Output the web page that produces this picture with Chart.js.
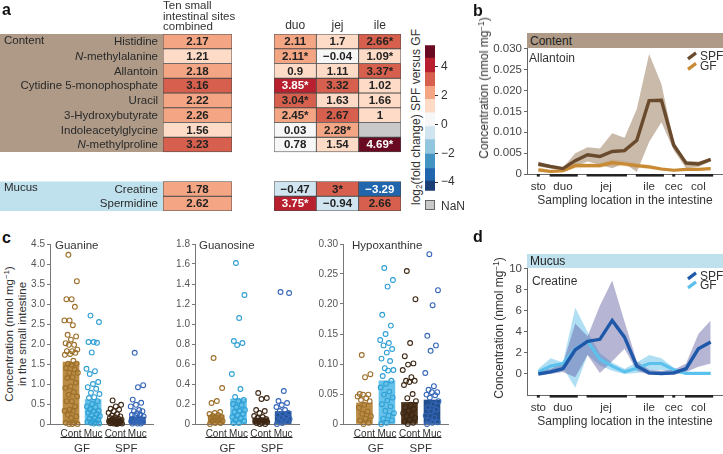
<!DOCTYPE html>
<html><head><meta charset="utf-8">
<script src="https://cdn.jsdelivr.net/npm/chart.js@4.4.1/dist/chart.umd.min.js"></script>
<style>
body{margin:0;width:723px;height:454px;position:relative;background:#fff;font-family:"Liberation Sans",Arial,sans-serif;color:#333;overflow:hidden}
canvas{position:absolute}
.t{position:absolute;white-space:nowrap;line-height:1}
sup{font-size:0.68em;vertical-align:0.45em;line-height:0}
sub{font-size:0.68em;vertical-align:-0.2em;line-height:0}
.box{position:absolute}
</style></head><body>
<script>
// ================= DATA =================
const contentRows = ['Histidine','N-methylalanine','Allantoin','Cytidine 5-monophosphate','Uracil','3-Hydroxybutyrate','Indoleacetylglycine','N-methylproline'];
const mucusRows = ['Creatine','Spermidine'];
const combinedContent = [2.17,1.21,2.18,3.16,2.22,2.26,1.56,3.23];
const combinedMucus = [1.78,2.62];
const siteCols = ['duo','jej','ile'];
const duoContent = [2.11,2.11,0.9,3.85,3.04,2.45,0.03,0.78];
const jejContent = [1.7,-0.04,1.11,3.32,1.63,2.67,2.28,1.54];
const ileContent = [2.66,1.09,3.37,1.02,1.66,1,null,4.69];
const duoContentSig = [0,1,0,1,1,1,0,0];
const jejContentSig = [0,0,0,0,0,0,1,0];
const ileContentSig = [1,1,1,0,0,0,0,1];
const duoMucus = [-0.47,3.75];
const jejMucus = [3,-0.94];
const ileMucus = [-3.29,2.66];
const duoMucusSig = [0,1];
const jejMucusSig = [1,0];
const ileMucusSig = [0,0];
const colorEdges = [-4.6,-3.93,-3.06,-2.05,-1.04,-0.15,0.8,1.75,2.64,3.6,4.6,5.5];
const colorPalette = ['#1b3d75','#2166ac','#4393c3','#92c5de','#d1e5f0','#f7f7f7','#fddbc7','#f3a584','#d6604d','#b8202f','#6a0a22'];
const colorTicks = [-4,-2,0,2,4];

const siteGroups = ['sto','duo','jej','ile','cec','col'];
const siteGroupSizes = [1,3,4,3,1,3];

const allantoinSPF     = [0.0024,0.0018,0.0013,0.0032,0.0046,0.0042,0.0054,0.0056,0.0081,0.0176,0.0177,0.0069,0.0026,0.0024,0.0035];
const allantoinSPFHigh = [0.0030,0.0020,0.0015,0.0050,0.0064,0.0061,0.0098,0.0087,0.0156,0.0288,0.0215,0.0078,0.0032,0.0030,0.0038];
const allantoinSPFLow  = [0.0018,0.0013,0.0010,0.0018,0.0030,0.0022,0.0014,0.0026,0.0005,0.0077,0.0124,0.0057,0.0014,0.0017,0.0030];
const allantoinGF      = [0.0010,0.0006,0.0008,0.0020,0.0020,0.0020,0.0027,0.0024,0.0020,0.0017,0.0012,0.0009,0.0011,0.0011,0.0013];
const allantoinGFHigh  = [0.0016,0.0010,0.0012,0.0027,0.0026,0.0026,0.0035,0.0031,0.0026,0.0022,0.0016,0.0012,0.0014,0.0014,0.0016];
const allantoinGFLow   = [0.0005,0.0002,0.0004,0.0014,0.0015,0.0015,0.0020,0.0018,0.0015,0.0012,0.0008,0.0006,0.0008,0.0008,0.0010];
const allantoinTicks = [0,0.005,0.010,0.015,0.020,0.025,0.030];

const creatineSPF     = [0,0.2,0.5,2.3,3.1,3.3,5.1,3.5,0.75,0.1,0.05,0.1,0.5,2.4,3.05];
const creatineSPFHigh = [0.3,0.5,1.0,4.8,3.6,6.5,8.9,5.0,1.2,0.4,0.3,0.4,1.0,3.8,5.1];
const creatineSPFLow  = [-0.1,0.0,0.2,-0.3,1.8,0.1,1.2,2.4,0.3,-0.1,-0.1,-0.1,0.2,0.7,1.0];
const creatineGF      = [0.2,0.75,1.0,2.4,3.1,1.4,0.75,0.2,0.55,1.0,1.0,0.4,0.05,0.05,0.05];
const creatineGFHigh  = [0.5,1.5,1.1,6.3,4.0,2.0,1.1,0.5,1.1,1.8,1.5,0.6,0.2,0.2,0.2];
const creatineGFLow   = [-0.1,0.2,0.6,-1.3,1.8,0.8,0.3,0.0,0.1,0.3,0.4,0.1,-0.05,-0.05,-0.05];
const creatineTicks = [0,2,4,6,8,10];

const stripGroups = ['Cont','Muc','Cont','Muc'];
const hostGroups = ['GF','SPF'];

const guanineMean = [1.55,0.61,0.13,0.175];
const guanineGFCont = [4.23,3.57,3.12,3.12,2.93,2.59,2.59,2.47,2.23,2.19,2.11,2.02,1.98,1.98,1.86,1.82,1.82,1.78,1.75,1.73,1.58,1.51,1.51,1.48,1.4,1.36,1.28,1.28,1.17,1.15,1.03,0.94,0.9,0.8,0.73,0.69,0.57,0.57,0.44,0.36,0.33,0.33,0.23,0.19,0.15,0.03,0.03,0,0,0];
const guanineGFMuc = [2.71,2.55,2.05,2.05,2.03,1.79,1.38,1.32,1.25,1.05,1.0,0.92,0.88,0.78,0.75,0.67,0.65,0.57,0.5,0.44,0.42,0.37,0.33,0.32,0.28,0.25,0.22,0.2,0.15,0.13,0.1,0.07,0.05,0.03,0.03,0.01,0.01];
const guanineSPFCont = [0.59,0.48,0.44,0.38,0.36,0.32,0.28,0.25,0.21,0.19,0.17,0.15,0.13,0.13,0.11,0.11,0.09,0.07,0.07,0.07,0.05,0.04,0.03,0.02,0.02,0.02,0.01,0.01,0];
const guanineSPFMuc = [1.78,0.97,0.92,0.61,0.53,0.48,0.44,0.35,0.32,0.32,0.27,0.23,0.23,0.22,0.19,0.15,0.13,0.11,0.09,0.07,0.07,0.05,0.05,0.01,0.01,0.01];
const guanineTicks = [0,0.5,1.0,1.5,2.0,2.5,3.0,3.5,4.0,4.5];

const guanosineMean = [0.09,0.25,0.06,0.125];
const guanosineGFCont = [0.66,0.36,0.23,0.21,0.12,0.11,0.1,0.09,0.08,0.07,0.07,0.06,0.05,0.04,0.03,0.03,0.03,0.01,0.01,0];
const guanosineGFMuc = [1.61,1.29,1.06,0.83,0.81,0.79,0.5,0.35,0.27,0.24,0.23,0.2,0.19,0.17,0.14,0.13,0.12,0.1,0.09,0.07,0.06,0.04,0.03,0.01,0.01];
const guanosineSPFCont = [0.31,0.26,0.25,0.14,0.13,0.11,0.08,0.07,0.06,0.05,0.04,0.03,0.03,0.03,0.02,0.01,0.01,0,0];
const guanosineSPFMuc = [1.32,1.31,0.33,0.23,0.21,0.19,0.17,0.14,0.13,0.11,0.1,0.09,0.08,0.06,0.05,0.04,0.03,0.03,0.01,0];
const guanosineTicks = [0,0.2,0.4,0.6,0.8,1.0,1.2,1.4,1.6,1.8];

const hypoxanthineMean = [0.035,0.072,0.036,0.04];
const hypoxanthineGFCont = [0.115,0.083,0.078,0.05,0.049,0.049,0.046,0.043,0.04,0.038,0.032,0.027,0.021,0.017,0.013,0.009,0.006,0.002,0];
const hypoxanthineGFMuc = [0.26,0.24,0.229,0.182,0.164,0.15,0.14,0.135,0.131,0.125,0.119,0.109,0.105,0.093,0.09,0.089,0.08,0.072,0.067,0.061,0.054,0.049,0.044,0.039,0.033,0.029,0.022,0.018,0.014,0.009,0.006,0.002,0];
const hypoxanthineSPFCont = [0.255,0.208,0.135,0.113,0.101,0.099,0.09,0.078,0.072,0.072,0.07,0.065,0.05,0.043,0.038,0.032,0.028,0.025,0.022,0.018,0.015,0.013,0.01,0.007,0.004,0.002,0];
const hypoxanthineSPFMuc = [0.283,0.223,0.198,0.147,0.131,0.122,0.085,0.063,0.057,0.053,0.053,0.049,0.048,0.044,0.038,0.033,0.028,0.024,0.021,0.014,0.011,0.006,0.003,0.002,0];
const hypoxanthineTicks = [0,0.05,0.10,0.15,0.20,0.25,0.30];

// ================= HELPERS =================
const FONT = '"Liberation Sans", Arial, sans-serif';
Chart.defaults.font.family = FONT;
Chart.defaults.color = '#333';
Chart.defaults.animation = false;

function label(html, x, cy, size, o) {
  o = o || {};
  const d = document.createElement('div');
  d.className = 't'; d.innerHTML = html;
  d.style.left = x + 'px'; d.style.top = cy + 'px'; d.style.fontSize = size + 'px';
  if (o.bold) d.style.fontWeight = 'bold';
  if (o.color) d.style.color = o.color;
  if (o.lh) { d.style.lineHeight = o.lh + 'px'; d.style.textAlign = 'center'; }
  const tx = o.align === 'center' || o.rot ? '-50%' : (o.align === 'right' ? '-100%' : '0');
  d.style.transform = 'translate(' + tx + ',-50%)' + (o.rot ? ' rotate(-90deg)' : '');
  document.body.appendChild(d);
}
function box(x, y, w, h, bg, border) {
  const d = document.createElement('div');
  d.className = 'box';
  d.style.cssText += `left:${x}px;top:${y}px;width:${w}px;height:${h}px;background:${bg};` + (border ? `border:${border};box-sizing:border-box;` : '');
  document.body.appendChild(d);
}
function canvasAt(x, y, w, h) {
  const c = document.createElement('canvas');
  c.width = w; c.height = h;
  c.style.left = x + 'px'; c.style.top = y + 'px'; c.style.width = w + 'px'; c.style.height = h + 'px';
  document.body.appendChild(c);
  return c;
}
function colorFor(v) {
  if (v === null || v === undefined) return '#c9c9c9';
  for (let i = 0; i < colorPalette.length; i++) if (v < colorEdges[i + 1]) return colorPalette[i];
  return colorPalette[colorPalette.length - 1];
}
function binOf(v) {
  for (let i = 0; i < colorPalette.length; i++) if (v < colorEdges[i + 1]) return i;
  return colorPalette.length - 1;
}
function fmtVal(v) { return v < 0 ? '\u2212' + String(Math.abs(v)) : String(v); }
function jit(i) { return (((i * 0.618034 + 0.31) % 1) - 0.5) * 0.62; }

// ================= PANEL a: HEATMAPS =================
const contentPos = contentRows.map((_, i) => i);
const mucusPos = mucusRows.map((_, i) => contentRows.length + 2 + i);
const nRowsTotal = contentRows.length + 2 + mucusRows.length;

const cellText = {
  id: 'cellText',
  afterDatasetsDraw(chart) {
    const ctx = chart.ctx;
    ctx.save();
    ctx.font = 'bold 11.5px ' + FONT;
    ctx.textAlign = 'center'; ctx.textBaseline = 'middle';
    chart.data.datasets.forEach((ds, d) => {
      chart.getDatasetMeta(d).data.forEach((el, k) => {
        const v = ds.vals[k];
        if (v === null || v === undefined) return;
        const b = binOf(v);
        ctx.fillStyle = (b >= 9 || b <= 2) ? '#ffffff' : '#222';
        ctx.fillText(fmtVal(v) + (ds.sigs[k] ? '*' : ''), el.x, (el.y + el.base) / 2 + 0.5);
      });
    });
    ctx.restore();
  }
};

function heatDatasets(posArr, valCols, sigCols) {
  return posArr.map((p, r) => ({
    data: valCols.map(() => [p, p + 1]),
    vals: valCols.map(col => col[r]),
    sigs: sigCols.map(col => col[r]),
    backgroundColor: valCols.map(col => colorFor(col[r])),
    borderColor: '#4a4a4a', borderWidth: 0.8, borderSkipped: false,
    barPercentage: 1, categoryPercentage: 1, grouped: false
  }));
}
function heatOptions() {
  return {
    responsive: false, maintainAspectRatio: false, animation: false,
    events: [],
    plugins: { legend: { display: false }, tooltip: { enabled: false } },
    scales: {
      x: { display: false, offset: true },
      y: { display: false, type: 'linear', min: 0, max: nRowsTotal, reverse: true }
    }
  };
}

const rowLabels = {
  id: 'rowLabels',
  beforeDatasetsDraw(chart) {
    const { ctx, chartArea: a, scales: { y } } = chart;
    ctx.save();
    ctx.fillStyle = '#ae9a86';
    const c0 = y.getPixelForValue(contentPos[0]), c1 = y.getPixelForValue(contentPos[contentPos.length - 1] + 1);
    ctx.fillRect(0, c0, a.left, c1 - c0);
    ctx.fillStyle = '#bfe1ed';
    const m0 = y.getPixelForValue(mucusPos[0]), m1 = y.getPixelForValue(mucusPos[mucusPos.length - 1] + 1);
    ctx.fillRect(0, m0, a.left, m1 - m0);
    ctx.restore();
  },
  afterDatasetsDraw(chart) {
    const { ctx, chartArea: a, scales: { y } } = chart;
    ctx.save();
    ctx.fillStyle = '#2a2a2a'; ctx.textBaseline = 'middle';
    const draw = (name, p) => {
      const cy = y.getPixelForValue(p + 0.5) + 0.5;
      const xr = a.left - 5;
      if (name.startsWith('N-')) {
        ctx.font = '11.5px ' + FONT;
        const rest = name.slice(1);
        const w2 = ctx.measureText(rest).width;
        ctx.textAlign = 'left';
        ctx.fillText(rest, xr - w2, cy);
        ctx.font = 'italic 11.5px ' + FONT;
        const w1 = ctx.measureText('N').width;
        ctx.fillText('N', xr - w2 - w1, cy);
      } else {
        ctx.font = '11.5px ' + FONT;
        ctx.textAlign = 'right';
        ctx.fillText(name, xr, cy);
      }
    };
    contentRows.forEach((n, i) => draw(n, contentPos[i]));
    mucusRows.forEach((n, i) => draw(n, mucusPos[i]));
    ctx.font = '11.5px ' + FONT; ctx.textAlign = 'left';
    ctx.fillText('Content', 4, y.getPixelForValue(contentPos[0] + 0.5) - 1);
    ctx.fillText('Mucus', 4, y.getPixelForValue(mucusPos[0] + 0.5) - 1);
    ctx.restore();
  }
};

new Chart(canvasAt(0, 0, 234, 215), {
  type: 'bar',
  data: {
    labels: ['combined'],
    datasets: heatDatasets(contentPos, [combinedContent], [contentRows.map(() => 0)])
      .concat(heatDatasets(mucusPos, [combinedMucus], [mucusRows.map(() => 0)]))
  },
  options: Object.assign(heatOptions(), { layout: { padding: { left: 163, top: 34, right: 2, bottom: 4 } } }),
  plugins: [rowLabels, cellText]
});

const colLabels = {
  id: 'colLabels',
  afterDraw(chart) {
    const { ctx, chartArea: a, scales: { x } } = chart;
    ctx.save();
    ctx.font = '12px ' + FONT; ctx.fillStyle = '#333';
    ctx.textAlign = 'center'; ctx.textBaseline = 'middle';
    chart.data.labels.forEach((l, i) => ctx.fillText(l, x.getPixelForValue(i), a.top - 8));
    ctx.restore();
  }
};
new Chart(canvasAt(274, 14, 129, 201), {
  type: 'bar',
  data: {
    labels: siteCols,
    datasets: heatDatasets(contentPos, [duoContent, jejContent, ileContent], [duoContentSig, jejContentSig, ileContentSig])
      .concat(heatDatasets(mucusPos, [duoMucus, jejMucus, ileMucus], [duoMucusSig, jejMucusSig, ileMucusSig]))
  },
  options: Object.assign(heatOptions(), { layout: { padding: { left: 0, top: 20, right: 2, bottom: 4 } } }),
  plugins: [cellText, colLabels]
});

new Chart(canvasAt(425, 35, 40, 166), {
  type: 'bar',
  data: {
    labels: [''],
    datasets: colorPalette.map((c, i) => ({
      data: [[colorEdges[i], colorEdges[i + 1]]], backgroundColor: c, borderWidth: 0,
      barPercentage: 1, categoryPercentage: 1, grouped: false
    }))
  },
  options: {
    responsive: false, maintainAspectRatio: false, animation: false, events: [],
    layout: { padding: { left: 0, top: 8, right: 0, bottom: 8 } },
    plugins: { legend: { display: false }, tooltip: { enabled: false } },
    scales: {
      x: { display: false, offset: true },
      y: {
        position: 'right', min: colorEdges[0], max: colorEdges[colorEdges.length - 1],
        afterBuildTicks: s => { s.ticks = colorTicks.map(v => ({ value: v })); },
        afterFit: s => { s.width = 30; },
        ticks: { callback: v => fmtVal(v), font: { size: 12 }, color: '#333', padding: 3 },
        grid: { display: true, drawOnChartArea: false, drawTicks: true, tickLength: 3, color: '#333' },
        border: { display: false }
      }
    }
  }
});

label('<b>a</b>', 2, 10, 16, { color: '#111' });
label('Ten small', 163, 5.5, 11.5);
label('intestinal sites', 163, 16.5, 11.5);
label('combined', 163, 27, 11.5);
label('log<sub>2</sub>(fold change) SPF versus GF', 416, 117, 12, { rot: true });
box(425, 200, 10, 10, '#c9c9c9', '1px solid #666');
label('NaN', 441, 205.5, 12);

// ================= PANELS b & d =================
const groupStarts = []; { let acc = 0; siteGroupSizes.forEach(n => { groupStarts.push(acc); acc += n; }); }
const groupCenters = siteGroupSizes.map((n, k) => groupStarts[k] + (n - 1) / 2);
const siteCount = siteGroupSizes.reduce((a, b) => a + b, 0);

const segPlugin = {
  id: 'seg',
  afterDraw(chart) {
    const { ctx, chartArea: a, scales: { x } } = chart;
    ctx.save(); ctx.strokeStyle = '#222'; ctx.lineWidth = 2.6; ctx.lineCap = 'butt';
    siteGroupSizes.forEach((n, k) => {
      const s = groupStarts[k], e = s + n - 1;
      const x0 = x.getPixelForValue(s) - (n > 1 ? 1 : 1.5), x1 = x.getPixelForValue(e) + (n > 1 ? 2.5 : 1.5);
      ctx.beginPath(); ctx.moveTo(x0, a.bottom + 1.3); ctx.lineTo(x1, a.bottom + 1.3); ctx.stroke();
    });
    ctx.restore();
  }
};
const legendPlugin = {
  id: 'lg',
  afterDraw(chart, args, o) {
    const { ctx, chartArea: a } = chart;
    ctx.save();
    [0, 1].forEach(k => {
      const ds = chart.data.datasets[k];
      const x = a.right - 30, y = a.top + o.y0 + k * o.dy;
      ctx.strokeStyle = ds.borderColor; ctx.lineWidth = 3.2; ctx.lineCap = 'butt';
      ctx.beginPath(); ctx.moveTo(x - 4, y + 3); ctx.lineTo(x + 4, y - 3); ctx.stroke();
      ctx.fillStyle = '#333'; ctx.font = '12px ' + FONT; ctx.textAlign = 'left'; ctx.textBaseline = 'middle';
      ctx.fillText(ds.label, x + 8, y + 0.5);
    });
    ctx.restore();
  }
};
const pts = arr => arr.map((v, i) => ({ x: i, y: v }));

function profileChart(canvas, d, yMin, yMax, yTicks, yFmt, lg) {
  return new Chart(canvas, {
    type: 'line',
    data: {
      datasets: [
        { label: 'SPF', data: pts(d.spf), borderColor: d.spfColor, borderWidth: 3.4, pointRadius: 0, fill: false, tension: 0 },
        { label: 'GF', data: pts(d.gf), borderColor: d.gfColor, borderWidth: 3.2, pointRadius: 0, fill: false, tension: 0 },
        { label: 'SPFhi', data: pts(d.spfHi), borderWidth: 0, pointRadius: 0, fill: '+1', backgroundColor: d.spfBand },
        { label: 'SPFlo', data: pts(d.spfLo), borderWidth: 0, pointRadius: 0, fill: false },
        { label: 'GFhi', data: pts(d.gfHi), borderWidth: 0, pointRadius: 0, fill: '+1', backgroundColor: d.gfBand },
        { label: 'GFlo', data: pts(d.gfLo), borderWidth: 0, pointRadius: 0, fill: false }
      ]
    },
    options: {
      responsive: false, maintainAspectRatio: false, animation: false, events: [],
      layout: { padding: { left: 0, top: 8, right: 1, bottom: 0 } },
      plugins: { legend: { display: false }, tooltip: { enabled: false }, lg: lg },
      scales: {
        x: {
          type: 'linear', min: -0.92, max: siteCount - 1 + 0.92,
          afterBuildTicks: s => { s.ticks = groupCenters.map(v => ({ value: v })); },
          afterFit: s => { s.height = 30; },
          ticks: { callback: (v, i) => siteGroups[i], autoSkip: false, maxRotation: 0, padding: 6, font: { size: 11.5 }, color: '#333' },
          grid: { display: false, drawTicks: false },
          border: { display: true, color: '#666', width: 1 }
        },
        y: {
          min: yMin, max: yMax,
          afterBuildTicks: s => { s.ticks = yTicks.map(v => ({ value: v })); },
          afterFit: s => { s.width = 42; },
          ticks: { callback: yFmt, font: { size: 11.5 }, color: '#444', padding: 2 },
          grid: { display: true, drawOnChartArea: false, drawTicks: true, tickLength: 3, color: '#666' },
          border: { display: true, color: '#666', width: 1 }
        }
      }
    },
    plugins: [segPlugin, legendPlugin]
  });
}

box(527, 33, 196, 15, '#ae9a86');
label('<b>b</b>', 473, 11, 16, { color: '#111' });
label('Content', 530, 40.5, 12, { color: '#222' });
profileChart(canvasAt(485, 40, 238, 164), {
  spf: allantoinSPF, spfHi: allantoinSPFHigh, spfLo: allantoinSPFLow,
  gf: allantoinGF, gfHi: allantoinGFHigh, gfLo: allantoinGFLow,
  spfColor: '#6a4a2c', gfColor: '#c98a34', spfBand: 'rgba(150,118,85,0.5)', gfBand: 'rgba(225,175,95,0.35)'
}, 0, 0.03, allantoinTicks, v => v === 0 ? '0' : v.toFixed(3), { y0: 7, dy: 10.5 });
label('Allantoin', 529, 57.5, 12);
label('Concentration (nmol mg<sup>\u22121</sup>)', 484, 88, 12, { rot: true });
label('Sampling location in the intestine', 625, 200, 12, { align: 'center' });

box(527, 254, 196, 14, '#bfe1ed');
label('<b>d</b>', 473, 237, 16, { color: '#111' });
label('Mucus', 530, 261, 12, { color: '#222' });
profileChart(canvasAt(485, 260, 238, 165), {
  spf: creatineSPF, spfHi: creatineSPFHigh, spfLo: creatineSPFLow,
  gf: creatineGF, gfHi: creatineGFHigh, gfLo: creatineGFLow,
  spfColor: '#1f58a8', gfColor: '#5cc1ec', spfBand: 'rgba(95,90,160,0.45)', gfBand: 'rgba(80,185,230,0.45)'
}, -2, 10, creatineTicks, v => String(v), { y0: 7, dy: 9 });
label('Creatine', 532, 281, 12);
label('Concentration (nmol mg<sup>\u22121</sup>)', 499, 328, 12, { rot: true });
label('Sampling location in the intestine', 625, 421, 12, { align: 'center' });

// ================= PANEL c =================
const barColors = ['#ba8c46', '#66c2ea', '#4f361e', '#22508f'];
const dotColors = ['#9c6f2a', '#2f9fd4', '#3d2714', '#3566b8'];
const groupLine = {
  id: 'groupLine',
  afterDraw(chart) {
    const { ctx, chartArea: a, scales: { x } } = chart;
    ctx.save();
    ctx.strokeStyle = '#222'; ctx.lineWidth = 1.1;
    ctx.fillStyle = '#333'; ctx.font = '11.5px ' + FONT; ctx.textAlign = 'center'; ctx.textBaseline = 'middle';
    hostGroups.forEach((h, k) => {
      const g0 = k * 2, g1 = k * 2 + 1;
      const x0 = x.getPixelForValue(g0 - 0.48), x1 = x.getPixelForValue(g1 + 0.42);
      ctx.beginPath(); ctx.moveTo(x0, a.bottom + 13.5); ctx.lineTo(x1, a.bottom + 13.5); ctx.stroke();
      ctx.fillText(h, (x.getPixelForValue(g0) + x.getPixelForValue(g1)) / 2, a.bottom + 24.5);
    });
    ctx.restore();
  }
};
function stripChart(area, mean, groups, ticks, dec) {
  const yW = 34, pt = 8, xH = 32;
  const c = canvasAt(area[0] - yW, area[1] - pt, area[2] - area[0] + yW + 2, area[3] - area[1] + pt + xH);
  return new Chart(c, {
    type: 'bar',
    data: {
      datasets: groups.map((arr, g) => ({
        type: 'scatter', data: arr.map((v, i) => ({ x: g + jit(i), y: v })),
        borderColor: dotColors[g], backgroundColor: 'rgba(0,0,0,0)', pointRadius: 2.4, pointBorderWidth: 1.1,
        order: 0, clip: false
      })).concat([{
        type: 'bar', data: mean.map((v, g) => ({ x: g, y: v })), backgroundColor: barColors,
        barThickness: 16, borderWidth: 0, order: 1
      }])
    },
    options: {
      responsive: false, maintainAspectRatio: false, animation: false, events: [],
      layout: { padding: { left: 0, top: pt, right: 2, bottom: 0 } },
      plugins: { legend: { display: false }, tooltip: { enabled: false } },
      scales: {
        x: {
          type: 'linear', min: -0.95, max: 3.75, offset: false,
          afterBuildTicks: s => { s.ticks = stripGroups.map((_, i) => ({ value: i })); },
          afterFit: s => { s.height = xH; },
          ticks: { callback: (v, i) => stripGroups[i], autoSkip: false, maxRotation: 0, padding: 4, font: { size: 10 }, color: '#333' },
          grid: { display: false, drawTicks: false },
          border: { display: true, color: '#777', width: 1 }
        },
        y: {
          min: 0, max: ticks[ticks.length - 1],
          afterBuildTicks: s => { s.ticks = ticks.map(v => ({ value: v })); },
          afterFit: s => { s.width = yW; },
          ticks: { callback: v => v === 0 ? '0' : v.toFixed(dec), font: { size: 10 }, color: '#555', padding: 2 },
          grid: { display: true, drawOnChartArea: false, drawTicks: true, tickLength: 3, color: '#777' },
          border: { display: true, color: '#777', width: 1 }
        }
      }
    },
    plugins: [groupLine]
  });
}
label('<b>c</b>', 2, 238, 16, { color: '#111' });
label('Concentration (nmol mg<sup>\u22121</sup>)<br>in the small intestine', 15, 334, 11.5, { rot: true, lh: 12.5 });
stripChart([50, 244, 157, 424], guanineMean, [guanineGFCont, guanineGFMuc, guanineSPFCont, guanineSPFMuc], guanineTicks, 1);
stripChart([195, 244, 303, 424], guanosineMean, [guanosineGFCont, guanosineGFMuc, guanosineSPFCont, guanosineSPFMuc], guanosineTicks, 1);
stripChart([343, 244, 452, 424], hypoxanthineMean, [hypoxanthineGFCont, hypoxanthineGFMuc, hypoxanthineSPFCont, hypoxanthineSPFMuc], hypoxanthineTicks, 2);
label('Guanine', 55, 245.5, 11.5);
label('Guanosine', 199, 245.5, 11.5);
label('Hypoxanthine', 352, 245.5, 11.5);
</script>
</body></html>
